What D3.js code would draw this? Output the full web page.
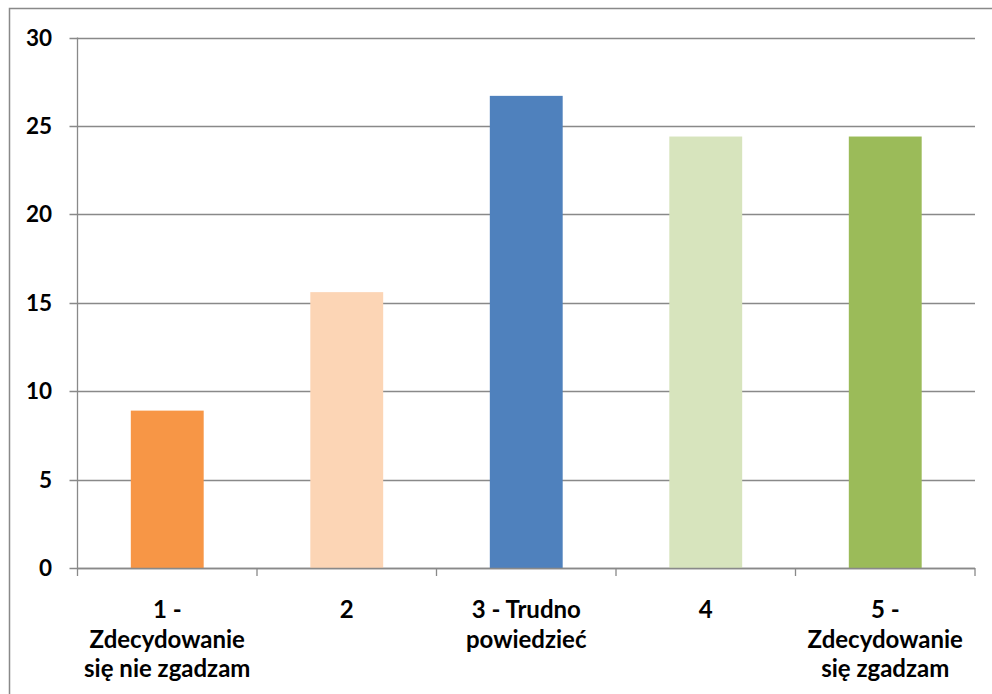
<!DOCTYPE html>
<html>
<head>
<meta charset="utf-8">
<script src="https://cdn.jsdelivr.net/npm/d3@7"></script>
<style>
  html, body { margin: 0; padding: 0; background: #fff; }
  svg { display: block; }
  text { font-family: Lato, "Open Sans", sans-serif; font-weight: bold; fill: #000; }
</style>
</head>
<body>
<svg id="chart" width="992" height="694"></svg>
<script>
// Data
const categories = [
  "1 -\nZdecydowanie\nsię nie zgadzam",
  "2",
  "3 - Trudno\npowiedzieć",
  "4",
  "5 -\nZdecydowanie\nsię zgadzam"
];
const values = [8.9, 15.6, 26.7, 24.4, 24.4];
const barColors = ["#F79646", "#FCD5B5", "#4F81BD", "#D7E4BD", "#9BBB59"];
const yTicks = [0, 5, 10, 15, 20, 25, 30];

const svg = d3.select("#chart");
const mLeft = 77.5, mRight = 975, mTop = 37.5, mBottom = 568;
const gridColor = "#898989";

// outer border
svg.append("rect")
  .attr("x", 9.5).attr("y", 8.5)
  .attr("width", 1000).attr("height", 700)
  .attr("fill", "none").attr("stroke", gridColor).attr("stroke-width", 1.5);

const x = d3.scaleBand().domain(d3.range(categories.length)).range([mLeft, mRight]).padding(0);
const y = d3.scaleLinear().domain([0, 30]).range([mBottom, mTop]);
const barRatio = 0.406;

// gridlines (with tick extension to the left)
svg.append("g").selectAll("line").data(yTicks).join("line")
  .attr("x1", mLeft - 8).attr("x2", mRight)
  .attr("y1", d => Math.round(y(d)) + 0.5).attr("y2", d => Math.round(y(d)) + 0.5)
  .attr("stroke", gridColor).attr("stroke-width", 1.3);

// y axis line
svg.append("line")
  .attr("x1", mLeft).attr("x2", mLeft).attr("y1", mTop).attr("y2", mBottom)
  .attr("stroke", gridColor).attr("stroke-width", 1.3);

// y tick labels
svg.append("g").selectAll("text").data(yTicks).join("text")
  .attr("x", 52).attr("y", d => y(d))
  .attr("dy", "0.36em")
  .attr("text-anchor", "end")
  .attr("font-size", "22.5px")
  .text(d => d);

// bars
svg.append("g").selectAll("rect").data(values).join("rect")
  .attr("x", (d, i) => x(i) + x.bandwidth() * (1 - barRatio) / 2)
  .attr("width", x.bandwidth() * barRatio)
  .attr("y", d => y(d))
  .attr("height", d => y(0) - y(d))
  .attr("fill", (d, i) => barColors[i]);

// x axis line
svg.append("line")
  .attr("x1", mLeft).attr("x2", mRight).attr("y1", mBottom + 0.5).attr("y2", mBottom + 0.5)
  .attr("stroke", gridColor).attr("stroke-width", 1.3);

// x tick marks at category boundaries
const bounds = d3.range(categories.length + 1).map(i => i === categories.length ? mRight : x(i));
svg.append("g").selectAll("line").data(bounds).join("line")
  .attr("x1", d => d).attr("x2", d => d)
  .attr("y1", mBottom).attr("y2", mBottom + 8)
  .attr("stroke", gridColor).attr("stroke-width", 1.3);

// category labels
const lab = svg.append("g").selectAll("text").data(categories).join("text")
  .attr("text-anchor", "middle")
  .attr("font-size", "24px")
  .attr("x", (d, i) => x(i) + x.bandwidth() / 2)
  .attr("y", 618);
lab.selectAll("tspan").data(d => d.split("\n")).join("tspan")
  .attr("x", function() { return d3.select(this.parentNode).attr("x"); })
  .attr("dy", (d, i) => i === 0 ? 0 : 29.5)
  .text(d => d);
</script>
</body>
</html>
